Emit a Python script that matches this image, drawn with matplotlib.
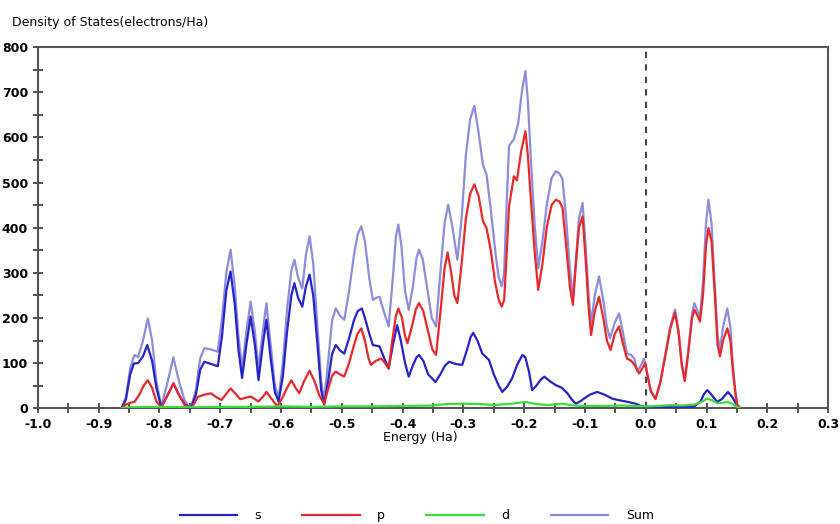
import matplotlib.pyplot as plt
from matplotlib.ticker import MultipleLocator

# Density of states (energy in Ha, DOS in electrons/Ha)
sum_e = [-0.915, -0.862, -0.855, -0.848, -0.841, -0.835, -0.827, -0.819, -0.812, -0.805,
         -0.797, -0.788, -0.777, -0.768, -0.758, -0.748, -0.740, -0.733, -0.726, -0.715,
         -0.704, -0.697, -0.690, -0.683, -0.676, -0.670, -0.664, -0.657, -0.650, -0.643,
         -0.637, -0.630, -0.624, -0.617, -0.610, -0.604, -0.597, -0.590, -0.583, -0.578,
         -0.572, -0.565, -0.559, -0.553, -0.547, -0.540, -0.534, -0.529, -0.522, -0.516,
         -0.510, -0.503, -0.496, -0.488, -0.480, -0.474, -0.468, -0.462, -0.455, -0.449,
         -0.443, -0.438, -0.430, -0.423, -0.416, -0.411, -0.407, -0.402, -0.396, -0.390,
         -0.383, -0.377, -0.373, -0.367, -0.360, -0.352, -0.345, -0.338, -0.331, -0.325,
         -0.318, -0.310, -0.303, -0.296, -0.289, -0.282, -0.275, -0.268, -0.262, -0.255,
         -0.247, -0.242, -0.237, -0.233, -0.229, -0.225, -0.217, -0.210, -0.204, -0.198,
         -0.194, -0.189, -0.183, -0.177, -0.170, -0.163, -0.155, -0.148, -0.142, -0.137,
         -0.131, -0.125, -0.120, -0.115, -0.110, -0.104, -0.099, -0.094, -0.090, -0.084,
         -0.077, -0.070, -0.064, -0.059, -0.051, -0.044, -0.038, -0.031, -0.024, -0.019,
         -0.014, -0.008, -0.003, 0.002, 0.008, 0.016, 0.024, 0.032, 0.040, 0.048,
         0.054, 0.059, 0.064, 0.070, 0.076, 0.080, 0.085, 0.089, 0.094, 0.099,
         0.103, 0.108, 0.114, 0.118, 0.122, 0.127, 0.134, 0.139, 0.143, 0.147,
         0.150, 0.155, 0.200]
sum_v = [0, 0, 25, 90, 118, 113, 150, 199, 150, 60,
         4, 50, 113, 60, 15, 1, 40, 110, 133, 130,
         125, 200, 300, 351, 270, 160, 88, 170, 236, 170,
         88, 170, 233, 140, 50, 22, 100, 220, 305, 329,
         290, 265, 340, 381, 320, 180, 60, 18, 110, 195,
         221, 205, 196, 260, 340, 385, 403, 370, 290, 240,
         245, 247, 210, 181, 290, 380, 407, 360, 260, 218,
         270, 335, 351, 330, 270, 200, 181, 300, 410, 451,
         400, 329, 420, 560, 640, 670, 610, 540, 518, 440,
         340, 290, 270, 299, 450, 581, 596, 630, 700, 747,
         680, 551, 410, 310, 370, 450, 510, 525, 520, 507,
         420, 310, 244, 330, 420, 455, 360, 250, 188, 250,
         292, 240, 180, 155, 190, 210, 170, 121, 118, 110,
         81, 95, 110, 76, 40, 21, 60, 120, 180, 219,
         170, 100, 62, 130, 210, 233, 215, 203, 280, 410,
         462, 410, 260, 160, 129, 180, 221, 180, 100, 40,
         10, 0, 0]

p_e = [-0.862, -0.855, -0.848, -0.841, -0.833, -0.826, -0.819, -0.812, -0.805, -0.797,
       -0.788, -0.777, -0.768, -0.758, -0.748, -0.742, -0.737, -0.726, -0.715, -0.707,
       -0.698, -0.690, -0.683, -0.675, -0.667, -0.658, -0.650, -0.643, -0.637, -0.630,
       -0.624, -0.615, -0.606, -0.597, -0.590, -0.583, -0.576, -0.570, -0.562, -0.553,
       -0.545, -0.537, -0.529, -0.522, -0.516, -0.510, -0.503, -0.496, -0.488, -0.480,
       -0.474, -0.468, -0.462, -0.456, -0.452, -0.444, -0.435, -0.429, -0.423, -0.417,
       -0.411, -0.407, -0.401, -0.396, -0.392, -0.385, -0.378, -0.373, -0.366, -0.358,
       -0.351, -0.345, -0.338, -0.331, -0.326, -0.320, -0.315, -0.310, -0.303, -0.296,
       -0.289, -0.282, -0.275, -0.268, -0.262, -0.255, -0.248, -0.242, -0.237, -0.233,
       -0.229, -0.225, -0.217, -0.212, -0.205, -0.198, -0.194, -0.189, -0.183, -0.177,
       -0.170, -0.163, -0.155, -0.148, -0.142, -0.137, -0.131, -0.125, -0.120, -0.115,
       -0.110, -0.104, -0.099, -0.094, -0.090, -0.084, -0.077, -0.070, -0.064, -0.058,
       -0.051, -0.044, -0.038, -0.031, -0.024, -0.018, -0.011, -0.005, -0.001, 0.003,
       0.008, 0.016, 0.024, 0.032, 0.040, 0.048, 0.054, 0.059, 0.064, 0.070,
       0.076, 0.080, 0.085, 0.089, 0.094, 0.099, 0.103, 0.108, 0.114, 0.118,
       0.122, 0.127, 0.134, 0.139, 0.143, 0.147, 0.150, 0.155]
p_v = [0, 8, 12, 14, 30, 50, 62, 45, 15, 2,
       25, 55, 30, 6, 0, 12, 25, 30, 33, 25,
       18, 32, 44, 32, 20, 23, 26, 20, 15, 25,
       36, 20, 4, 25, 45, 62, 45, 33, 60, 83,
       60, 28, 10, 45, 72, 81, 75, 70, 100, 140,
       165, 177, 150, 110, 96, 105, 110, 100, 88, 150,
       205, 221, 200, 160, 144, 180, 220, 233, 215, 170,
       130, 118, 210, 310, 345, 300, 250, 233, 320, 420,
       475, 496, 470, 415, 399, 350, 280, 240, 225, 240,
       340, 447, 514, 505, 570, 614, 560, 462, 350, 262,
       320, 400, 450, 462, 458, 444, 360, 270, 229, 320,
       400, 425, 330, 220, 162, 215, 247, 200, 150, 129,
       165, 181, 145, 110, 105, 95, 77, 90, 100, 72,
       38, 20, 58, 115, 175, 212, 165, 97, 60, 125,
       200, 218, 205, 192, 250, 360, 399, 370, 240, 140,
       115, 150, 177, 150, 85, 35, 8, 0]

s_e = [-0.862, -0.855, -0.848, -0.842, -0.835, -0.827, -0.820, -0.812, -0.805, -0.797,
       -0.788, -0.777, -0.768, -0.758, -0.748, -0.740, -0.733, -0.726, -0.715, -0.704,
       -0.697, -0.690, -0.683, -0.676, -0.670, -0.664, -0.657, -0.650, -0.643, -0.637,
       -0.630, -0.624, -0.617, -0.610, -0.604, -0.597, -0.590, -0.583, -0.578, -0.572,
       -0.565, -0.559, -0.553, -0.547, -0.540, -0.534, -0.529, -0.522, -0.516, -0.510,
       -0.503, -0.496, -0.488, -0.480, -0.474, -0.467, -0.462, -0.455, -0.449, -0.442,
       -0.438, -0.430, -0.423, -0.416, -0.409, -0.403, -0.396, -0.390, -0.383, -0.377,
       -0.373, -0.366, -0.358, -0.346, -0.338, -0.330, -0.323, -0.313, -0.302, -0.294,
       -0.288, -0.284, -0.277, -0.269, -0.258, -0.250, -0.242, -0.236, -0.228, -0.220,
       -0.212, -0.203, -0.198, -0.192, -0.187, -0.180, -0.173, -0.167, -0.158, -0.148,
       -0.138, -0.129, -0.121, -0.115, -0.108, -0.102, -0.092, -0.080, -0.068, -0.055,
       -0.045, -0.030, -0.017, -0.005, 0.010, 0.050, 0.080, 0.090, 0.096, 0.101,
       0.108, 0.117, 0.125, 0.135, 0.142, 0.150, 0.155]
s_v = [0, 20, 75, 99, 100, 115, 140, 105, 45, 2,
       25, 55, 30, 8, 1, 30, 85, 103, 98, 93,
       160, 260, 303, 230, 130, 67, 140, 203, 140, 62,
       140, 196, 110, 35, 15, 70, 170, 250, 277, 245,
       225, 270, 296, 250, 140, 40, 8, 65, 120, 140,
       128, 121, 155, 195, 215, 221, 200, 166, 140, 138,
       137, 110, 88, 140, 184, 150, 100, 70, 95, 113,
       118, 105, 75, 58, 75, 95, 103, 98, 96, 130,
       158, 167, 150, 121, 107, 75, 50, 36, 48, 66,
       95, 118, 112, 80, 40, 50, 63, 70, 60, 51,
       45, 33, 18, 10, 15, 21, 30, 36, 30, 21,
       18, 14, 10, 3, 2, 2, 4, 15, 32, 40,
       30, 14, 20, 36, 25, 6, 0]

d_e = [-0.862, -0.850, -0.800, -0.750, -0.700, -0.650, -0.600, -0.550, -0.500, -0.450,
       -0.400, -0.350, -0.330, -0.300, -0.270, -0.250, -0.220, -0.198, -0.180, -0.160,
       -0.137, -0.120, -0.100, -0.070, -0.040, -0.020, 0.000, 0.020, 0.040, 0.060,
       0.080, 0.090, 0.101, 0.110, 0.118, 0.127, 0.134, 0.142, 0.150, 0.155]
d_v = [0, 2, 3, 2, 3, 3, 4, 3, 4, 4,
       5, 6, 9, 10, 9, 7, 10, 14, 9, 7,
       10, 6, 5, 5, 6, 5, 4, 5, 7, 6,
       8, 13, 21, 17, 11, 12, 14, 10, 3, 0]

xticks = [-1.0, -0.9, -0.8, -0.7, -0.6, -0.5, -0.4, -0.3, -0.2, -0.1, 0.0, 0.1, 0.2, 0.3]
yticks = [0, 100, 200, 300, 400, 500, 600, 700, 800]


def dos_plot():
    fig = plt.figure(figsize=(8.4, 5.24), dpi=100)
    ax = fig.add_axes([0.045, 0.221, 0.941, 0.689])

    # the Fermi level
    ax.axvline(0.0, color='#444444', linestyle=(0, (3, 3)), linewidth=1.5, zorder=1)

    ax.plot(sum_e, sum_v, color='#8c8cdc', linewidth=1.6, label='Sum', zorder=2)
    ax.plot(s_e, s_v, color='#2323c8', linewidth=1.6, label='s', zorder=3)
    ax.plot(p_e, p_v, color='#e82828', linewidth=1.6, label='p', zorder=4)
    ax.plot(d_e, d_v, color='#3cdc3c', linewidth=1.6, label='d', zorder=5)

    ax.set_xlim(-1.0, 0.3)
    ax.set_ylim(0, 800)
    ax.set_xticks(xticks)
    ax.set_xticklabels(['%.1f' % t for t in xticks])
    ax.set_yticks(yticks)
    ax.xaxis.set_minor_locator(MultipleLocator(0.05))
    ax.yaxis.set_minor_locator(MultipleLocator(50))
    ax.tick_params(which='both', direction='inout', length=7, width=1.3,
                   color='#444444', labelsize=9)
    ax.tick_params(top=False, right=False, which='both')
    for lab in ax.get_xticklabels() + ax.get_yticklabels():
        lab.set_fontweight('bold')
    for sp in ax.spines.values():
        sp.set_color('#555555')
        sp.set_linewidth(1.5)

    fig.text(0.014, 0.958, 'Density of States(electrons/Ha)', fontsize=9, va='center')
    fig.text(0.5, 0.166, 'Energy (Ha)', fontsize=9, ha='center', va='center')

    # legend row at the bottom, in the order s p d Sum
    handles, labels = ax.get_legend_handles_labels()
    order = [1, 2, 3, 0]
    fig.legend([handles[i] for i in order], [labels[i] for i in order],
               loc='center', bbox_to_anchor=(0.496, 0.016), ncol=4, frameon=False,
               fontsize=9, handlelength=4.6, handletextpad=1.4, columnspacing=3.3,
               borderpad=0, borderaxespad=0)

    fig.savefig('out.png', dpi=100)


def main():
    dos_plot()


if __name__ == '__main__':
    main()
